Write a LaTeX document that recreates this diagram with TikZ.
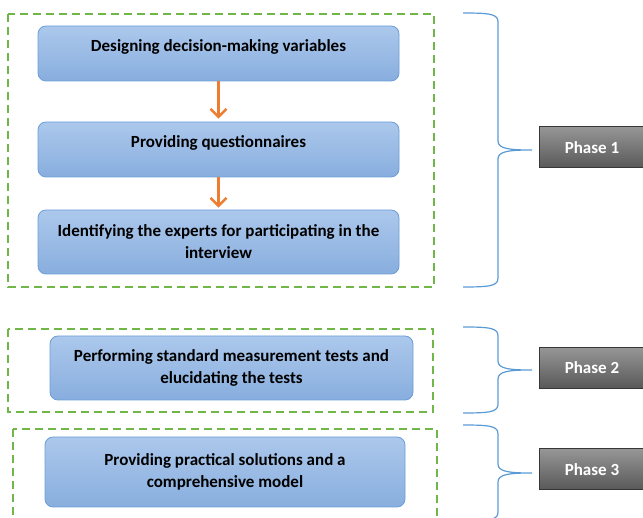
\documentclass[tikz,border=0pt]{standalone}
\usepackage{fontspec}
\setmainfont{Carlito}
\usetikzlibrary{arrows.meta}

\definecolor{boxTop}{RGB}{172,200,236}
\definecolor{boxBottom}{RGB}{136,174,222}
\definecolor{boxEdge}{RGB}{108,158,214}
\definecolor{phaseTop}{RGB}{150,150,150}
\definecolor{phaseBottom}{RGB}{88,88,88}
\definecolor{phaseEdge}{RGB}{55,55,55}
\definecolor{frameGreen}{RGB}{112,182,72}
\definecolor{arrowOrange}{RGB}{237,125,49}
\definecolor{braceBlue}{RGB}{91,155,213}

\tikzstyle{stepBox}=[rectangle, rounded corners = 8pt, draw = boxEdge, line width = 0.8pt, top color = boxTop, bottom color = boxBottom, align = center, inner sep = 0pt, font = \fontsize{17}{22}\selectfont\bfseries]
\tikzstyle{highText}=[text height = 12pt, text depth = 16pt]
\tikzstyle{phaseBox}=[rectangle, draw = phaseEdge, line width = 1pt, top color = phaseTop, bottom color = phaseBottom, text = white, minimum width = 106pt, minimum height = 41pt, inner sep = 0pt, font = \fontsize{17}{20}\selectfont\bfseries]
\tikzstyle{groupFrame}=[draw = frameGreen, line width = 1.8pt, dash pattern = on 8pt off 5pt]
\tikzstyle{flowArrow}=[draw = arrowOrange, line width = 2.4pt, -{Straight Barb[length = 8pt, width = 16pt]}]
\tikzstyle{phaseBrace}=[draw = braceBlue, line width = 1.2pt]

% right brace: #1 top, #2 tip, #3 bottom
\newcommand{\phasebrace}[3]{%
\draw[phaseBrace] (463,#1) .. controls (490,#1) and (498,#1+1) .. (498,#1+9)
  -- (498,#2-9) .. controls (498,#2-1) and (510,#2) .. (532,#2)
  .. controls (510,#2) and (498,#2+1) .. (498,#2+9)
  -- (498,#3-9) .. controls (498,#3-1) and (490,#3) .. (463,#3);}

\begin{document}
\begin{tikzpicture}[x = 1pt, y = -1pt]
\path[use as bounding box, clip] (0,0) rectangle (643,518);

% dashed frames
\draw[groupFrame] (8,14) rectangle (434,287);
\draw[groupFrame] (8,329) rectangle (433,412);
\draw[groupFrame] (13,429) rectangle (437,540);

% steps
\node[stepBox, highText, minimum width = 361pt, minimum height = 55pt] (s1) at (218.5,53.5)
  {Designing decision-making variables};
\node[stepBox, highText, minimum width = 361pt, minimum height = 55pt] (s2) at (218.5,149.5)
  {Providing questionnaires};
\node[stepBox, minimum width = 361pt, minimum height = 64pt] (s3) at (218.5,242)
  {Identifying the experts for participating in the\\interview};
\node[stepBox, minimum width = 363pt, minimum height = 64pt] (s4) at (231.5,368)
  {Performing standard measurement tests and\\elucidating the tests};
\node[stepBox, minimum width = 360pt, minimum height = 70pt] (s5) at (225,472)
  {Providing practical solutions and a\\comprehensive model};

\draw[flowArrow] (s1.south) -- ([yshift = 3pt]s2.north);
\draw[flowArrow] (s2.south) -- ([yshift = 2pt]s3.north);

% phases
\node[phaseBox] (p1) at (592,147.5) {Phase 1};
\node[phaseBox] (p2) at (592,368) {Phase 2};
\node[phaseBox] (p3) at (592,469.5) {Phase 3};

\phasebrace{13}{150}{287}
\phasebrace{327}{370}{413}
\phasebrace{425}{473}{521}
\end{tikzpicture}
\end{document}
